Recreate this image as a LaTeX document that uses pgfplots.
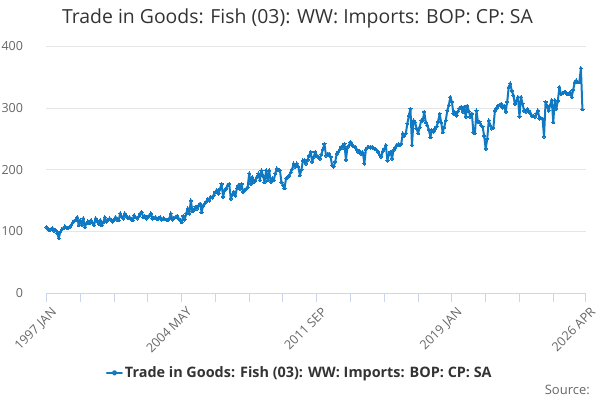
\documentclass[border=0pt]{standalone}
\usepackage{fontspec}
\setmainfont{Open Sans}
\usepackage{pgfplots}
\pgfplotsset{compat=1.18}
\definecolor{serc}{RGB}{16,121,196}
\definecolor{gridc}{HTML}{E6E6E6}
\definecolor{axisc}{HTML}{CCD6EB}
\definecolor{labc}{HTML}{666666}
\definecolor{titc}{HTML}{333333}
\begin{document}
\begin{tikzpicture}
\path[use as bounding box] (0pt,0pt) rectangle (600pt,400pt);
\begin{axis}[
  at={(46.5pt,107pt)}, anchor=south west,
  scale only axis, width=539pt, height=246.5pt,
  xmin=0, xmax=351, ymin=0, ymax=400,
  axis lines=left,
  x axis line style={draw=axisc, line width=1pt, -},
  y axis line style={draw=none},
  ytick={0,100,200,300,400},
  ymajorgrids, grid style={gridc, line width=1pt},
  ytick style={draw=none},
  xtick={0,88,176,264,351},
  xticklabels={1997 JAN,2004 MAY,2011 SEP,2019 JAN,2026 APR},
  minor xtick={22,44,66,110,132,154,198,220,242,286,308,330},
  xtick style={draw=axisc, line width=1pt},
  minor x tick style={draw=axisc, line width=1pt},
  tick align=outside, major tick length=9pt, minor tick length=9pt,
  x tick label style={rotate=45, anchor=north east, font=\fontsize{12.6}{14}\selectfont, text=labc, inner sep=1pt, yshift=-5pt, xshift=1pt},
  y tick label style={font=\fontsize{12.5}{14}\selectfont, text=labc, xshift=-11pt},
  /pgf/number format/assume math mode=true,
  clip=false,
  legend style={at={(0.47,-0.324)}, anchor=center, draw=none, fill=none, font=\bfseries\fontsize{14.4}{16}\selectfont, text=titc, inner sep=0pt},
  legend image code/.code={\draw[serc, line width=2pt] (0pt,0pt) -- (15pt,0pt); \fill[serc] (7.5pt,0pt) circle (1.8pt);},
]
\addplot[serc, line width=2pt, line join=round, line cap=round, mark=*, mark size=1.6pt, mark options={draw=none, fill=serc, line width=0pt}] coordinates {
(0,107)(1,104)(2,102)(3,104)(4,105)(5,101)(6,102)(7,97)(8,89)(9,99)(10,103)(11,105)
(12,108)(13,106)(14,105)(15,107)(16,110)(17,114)(18,117)(19,118)(20,123)(21,110)(22,118)(23,110)
(24,121)(25,107)(26,113)(27,116)(28,113)(29,118)(30,114)(31,110)(32,121)(33,116)(34,112)(35,118)
(36,110)(37,115)(38,123)(39,116)(40,118)(41,121)(42,119)(43,116)(44,120)(45,123)(46,119)(47,118)
(48,129)(49,124)(50,121)(51,129)(52,125)(53,122)(54,123)(55,120)(56,118)(57,126)(58,123)(59,121)
(60,124)(61,129)(62,131)(63,123)(64,125)(65,121)(66,123)(67,126)(68,129)(69,121)(70,122)(71,123)
(72,120)(73,121)(74,123)(75,119)(76,121)(77,120)(78,119)(79,118)(80,121)(81,129)(82,119)(83,122)
(84,123)(85,125)(86,121)(87,118)(88,115)(89,125)(90,119)(91,129)(92,137)(93,129)(94,150)(95,133)
(96,135)(97,140)(98,137)(99,142)(100,145)(101,131)(102,142)(103,145)(104,148)(105,153)(106,150)(107,156)
(108,155)(109,159)(110,164)(111,167)(112,161)(113,169)(114,177)(115,156)(116,167)(117,170)(118,175)(119,177)
(120,153)(121,160)(122,164)(123,158)(124,170)(125,175)(126,169)(127,177)(128,164)(129,167)(130,169)(131,172)
(132,194)(133,177)(134,188)(135,180)(136,183)(137,188)(138,194)(139,183)(140,199)(141,190)(142,180)(143,199)
(144,183)(145,199)(146,180)(147,186)(148,183)(149,194)(150,202)(151,199)(152,199)(153,180)(154,175)(155,170)
(156,186)(157,188)(158,191)(159,196)(160,201)(161,210)(162,205)(163,210)(164,205)(165,191)(166,200)(167,215)
(168,215)(169,210)(170,216)(171,223)(172,229)(173,213)(174,221)(175,229)(176,223)(177,221)(178,218)(179,225)
(180,233)(181,242)(182,223)(183,225)(184,226)(185,221)(186,207)(187,205)(188,213)(189,226)(190,229)(191,233)
(192,237)(193,236)(194,242)(195,216)(196,237)(197,240)(198,245)(199,240)(200,238)(201,237)(202,233)(203,229)
(204,230)(205,226)(206,228)(207,210)(208,233)(209,236)(210,237)(211,236)(212,237)(213,235)(214,234)(215,232)
(216,229)(217,224)(218,221)(219,230)(220,234)(221,240)(222,215)(223,225)(224,229)(225,218)(226,232)(227,236)
(228,240)(229,241)(230,240)(231,242)(232,259)(233,255)(234,259)(235,275)(236,288)(237,299)(238,240)(239,280)
(240,277)(241,267)(242,259)(243,269)(244,280)(245,280)(246,294)(247,277)(248,272)(249,265)(250,253)(251,264)
(252,262)(253,267)(254,270)(255,278)(256,291)(257,277)(258,261)(259,269)(260,280)(261,296)(262,305)(263,318)
(264,310)(265,291)(266,293)(267,288)(268,295)(269,300)(270,302)(271,294)(272,302)(273,286)(274,304)(275,295)
(276,286)(277,291)(278,261)(279,259)(280,296)(281,277)(282,278)(283,272)(284,270)(285,255)(286,234)(287,250)
(288,280)(289,272)(290,267)(291,268)(292,296)(293,300)(294,304)(295,305)(296,307)(297,301)(298,304)(299,294)
(300,310)(301,334)(302,340)(303,328)(304,321)(305,307)(306,312)(307,318)(308,286)(309,318)(310,307)(311,296)
(312,294)(313,298)(314,296)(315,292)(316,288)(317,287)(318,286)(319,291)(320,296)(321,283)(322,284)(323,283)
(324,254)(325,310)(326,303)(327,296)(328,305)(329,313)(330,277)(331,313)(332,299)(333,312)(334,334)(335,323)
(336,324)(337,326)(338,326)(339,323)(340,323)(341,326)(342,318)(343,330)(344,342)(345,345)(346,342)(347,342)
(348,365)(349,298)
};
\addlegendentry{Trade in Goods: Fish (03): WW: Imports: BOP: CP: SA}
\end{axis}
\node[text=titc, font=\fontsize{19.4}{22}\selectfont] at (297.5pt,382pt) {Trade in Goods: Fish (03): WW: Imports: BOP: CP: SA};
\node[text=labc, font=\fontsize{13}{15}\selectfont, anchor=base east, inner sep=0pt] at (590pt,6pt) {Source:};
\end{tikzpicture}
\end{document}
